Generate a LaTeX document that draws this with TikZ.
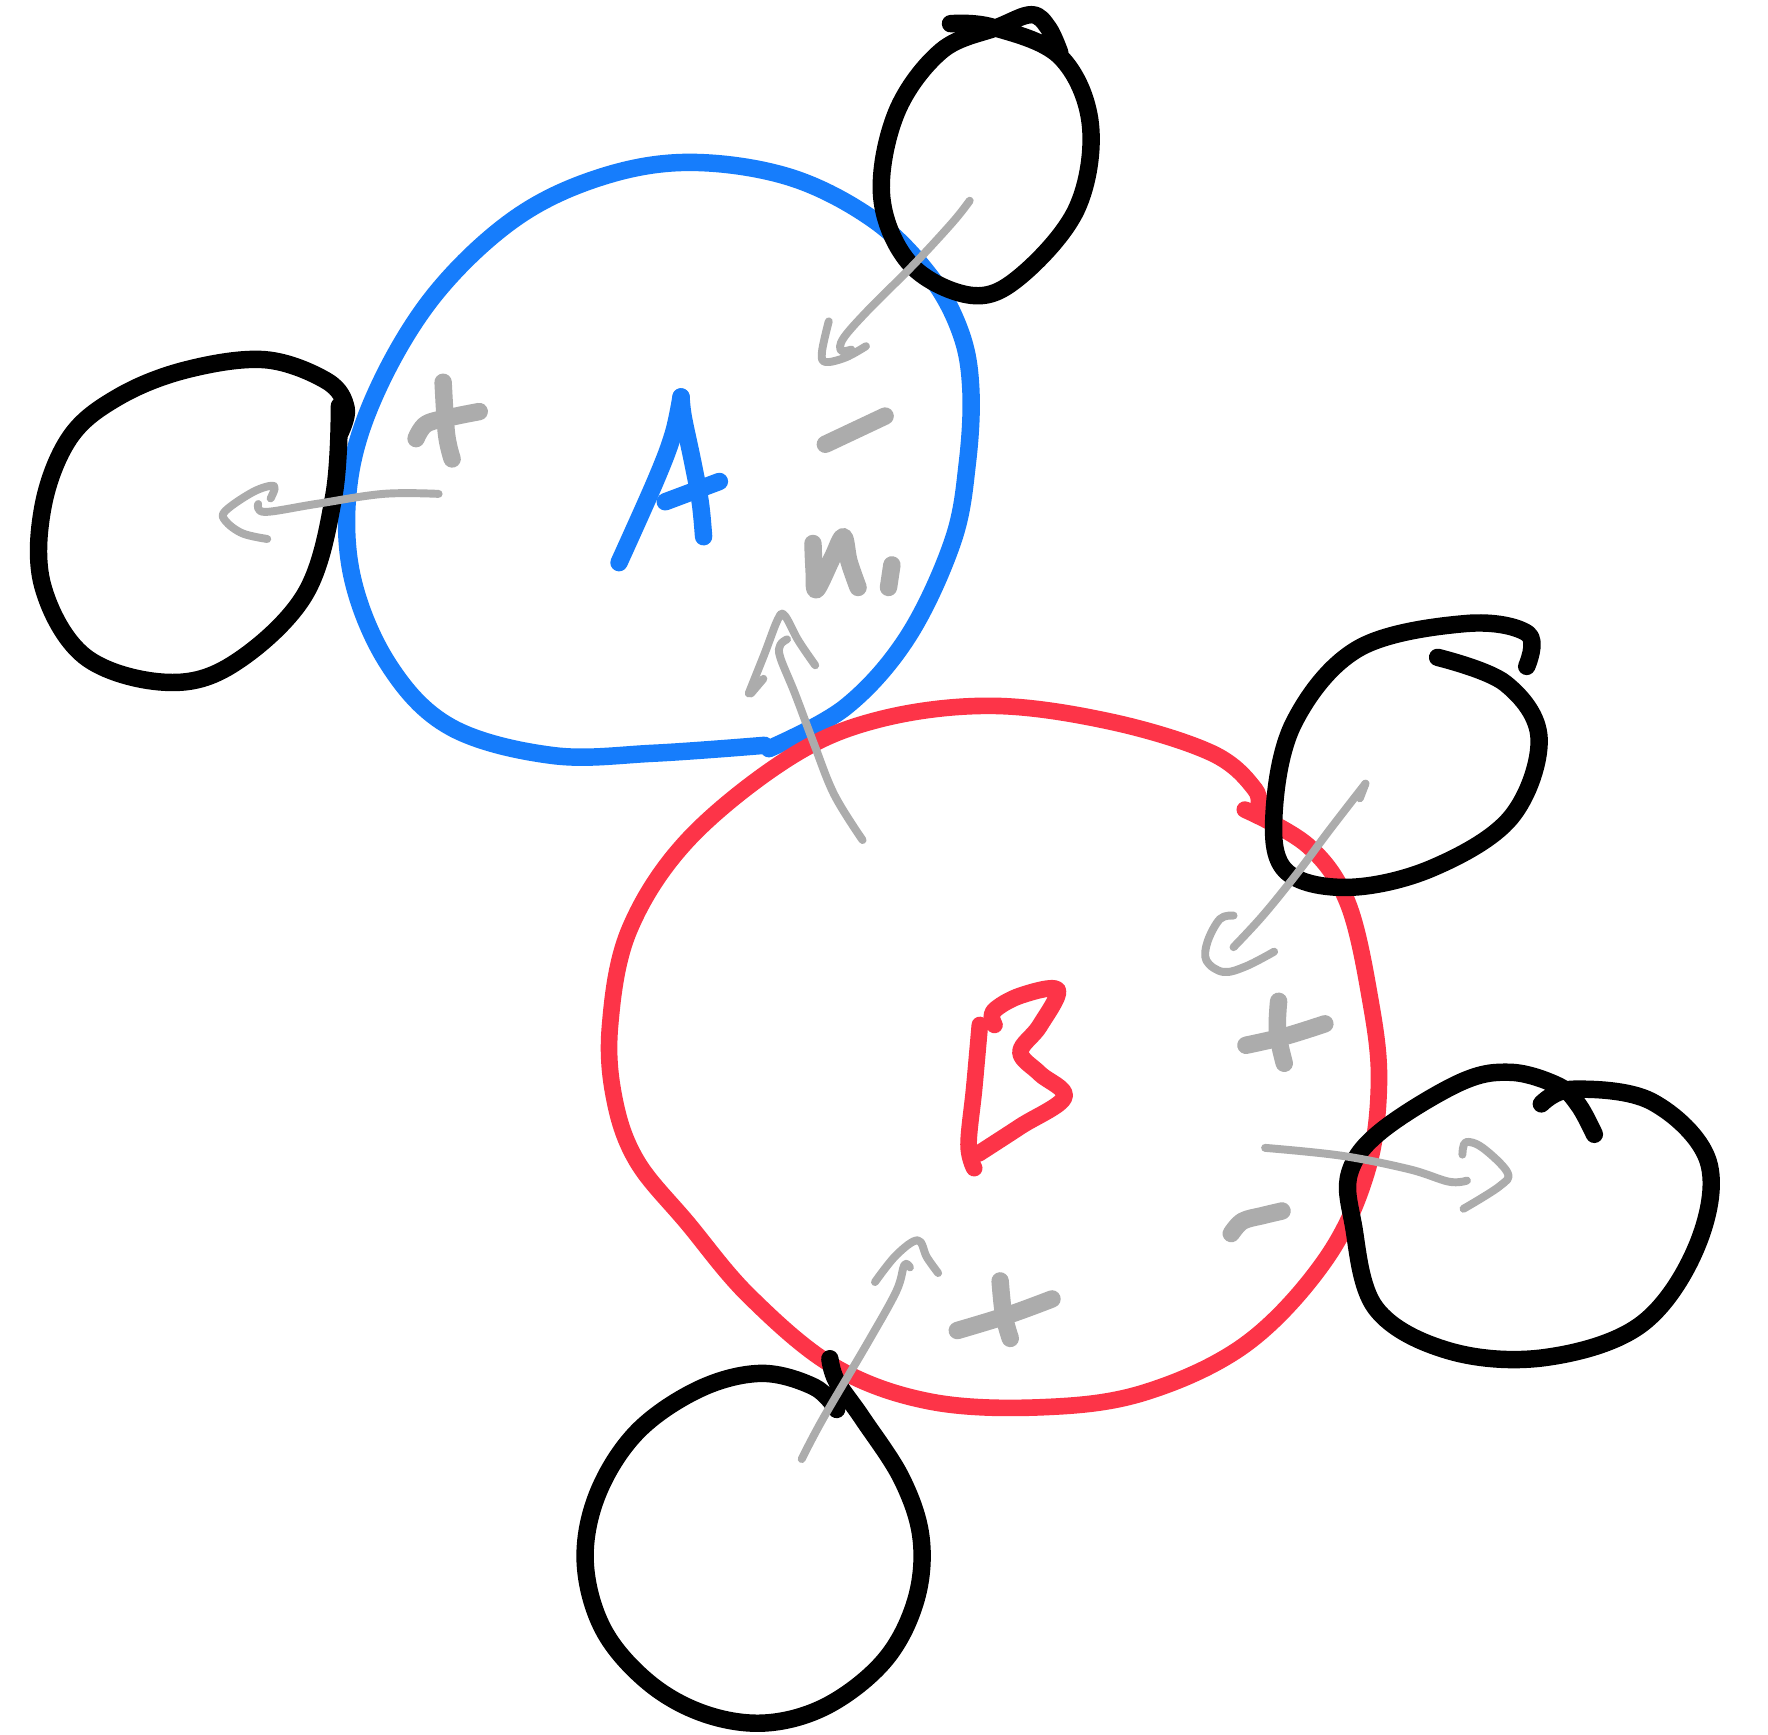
\documentclass[tikz,border=0pt]{standalone}
\definecolor{inkblue}{RGB}{22,125,252}
\definecolor{inkred}{RGB}{253,52,72}
\definecolor{inkgray}{RGB}{172,172,172}
\tikzset{
    ink/.style={smooth, tension=0.6, line cap=round, line join=round},
    blackpen/.style={ink, black, line width=4.4pt},
    bluepen/.style={ink, inkblue, line width=4.4pt},
    redpen/.style={ink, inkred, line width=4.2pt},
    graybold/.style={ink, inkgray, line width=4.4pt},
    graythin/.style={ink, inkgray, line width=2pt},
}
\begin{document}
\begin{tikzpicture}[x=0.01cm, y=-0.01cm]
    \useasboundingbox (0,0) rectangle (1568,1538);
    \fill[white] (0,0) rectangle (1568,1538);

    % Blue loop and its letter
    \draw[bluepen] plot coordinates {(682,664) (750,627) (805,565) (845,480) (858,410) (861,345) (852,295) (825,245) (775,195) (700,157) (610,144) (530,158) (455,195) (385,262) (335,345) (310,425) (312,510) (345,590) (400,645) (490,670) (580,668) (678,661)};
    \draw[bluepen] plot coordinates {(549,499) (582,425) (597,385) (604,352)};
    \draw[bluepen] plot coordinates {(604,352) (606,370) (614,408) (621,445) (624,476)};
    \draw[bluepen] (590,445) -- (638,427);

    % Red loop and its letter
    \draw[redpen] plot coordinates {(1104,718) (1160,750) (1195,800) (1215,885) (1223,960) (1212,1040) (1175,1118) (1105,1192) (1015,1235) (925,1248) (825,1243) (740,1212) (665,1150) (610,1085) (565,1030) (545,975) (541,910) (558,825) (610,745) (700,672) (780,638) (880,626) (985,640) (1075,668) (1113,700) (1115,718)};
    \draw[redpen] plot coordinates {(882,909) (881,897) (905,883) (938,878) (922,910) (905,933) (922,952) (944,973) (905,999) (868,1023)};
    \draw[redpen] plot coordinates {(869,909) (864,965) (859,1015) (864,1036)};

    % Black loops
    \draw[blackpen] plot coordinates {(843,21) (880,24) (940,50) (967,110) (955,185) (905,245) (862,262) (808,235) (782,175) (795,100) (835,45) (885,24) (915,13) (930,25) (940,47)};
    \draw[blackpen] plot coordinates {(301,360) (296,440) (270,528) (205,590) (145,605) (75,582) (38,520) (38,450) (62,388) (105,352) (165,328) (235,319) (290,338) (307,362) (301,385)};
    \draw[blackpen] plot coordinates {(1275,583) (1335,606) (1365,655) (1340,725) (1270,770) (1195,787) (1140,772) (1130,720) (1148,640) (1205,575) (1300,553) (1355,562) (1354,591)};
    \draw[blackpen] plot coordinates {(1367,979) (1395,966) (1465,977) (1515,1030) (1505,1105) (1455,1175) (1370,1204) (1285,1198) (1220,1160) (1200,1085) (1197,1040) (1225,1003) (1295,960) (1340,951) (1382,963) (1400,980) (1414,1006)};
    \draw[blackpen] plot coordinates {(742,1250) (722,1230) (675,1218) (620,1232) (565,1270) (530,1325) (519,1385) (535,1445) (575,1492) (625,1520) (680,1528) (735,1512) (785,1472) (812,1420) (817,1365) (800,1312) (765,1258) (742,1225) (736,1205)};

    % Gray arrows
    \draw[graythin] plot coordinates {(860,178) (845,197) (810,235) (770,275) (748,300) (746,311) (755,310)};
    \draw[graythin] plot coordinates {(735,285) (729,312) (732,321) (750,317) (768,307)};
    \draw[graythin] plot coordinates {(389,438) (340,438) (280,447) (235,454) (229,447)};
    \draw[graythin] plot coordinates {(240,442) (243,431) (225,436) (200,453) (200,462) (215,473) (237,478)};
    \draw[graythin] plot coordinates {(765,745) (740,705) (722,660) (705,615) (692,583) (692,572) (698,567)};
    \draw[graythin] plot coordinates {(664,615) (678,580) (690,549) (696,546) (708,568) (723,590)};
    \draw[graythin] (666,615) -- (677,602);
    \draw[graythin] plot coordinates {(1211,695) (1180,735) (1150,775) (1120,812) (1094,840)};
    \draw[graythin] (1211,695) -- (1206,708);
    \draw[graythin] plot coordinates {(1094,812) (1082,815) (1071,835) (1070,852) (1085,862) (1105,857) (1130,844)};
    \draw[graythin] plot coordinates {(1122,1018) (1190,1025) (1250,1037) (1285,1048) (1301,1047)};
    \draw[graythin] plot coordinates {(1297,1024) (1300,1013) (1315,1018) (1337,1040) (1330,1052) (1298,1072)};
    \draw[graythin] plot coordinates {(711,1294) (730,1258) (770,1190) (795,1145) (802,1122) (807,1124)};
    \draw[graythin] plot coordinates {(776,1137) (795,1113) (814,1100) (822,1115) (832,1129)};

    % Gray signs
    \draw[graybold] plot coordinates {(393,339) (396,385) (401,407)};
    \draw[graybold] plot coordinates {(369,389) (378,376) (400,370) (425,365)};
    \draw[graybold] (732,394) -- (785,369);
    \draw[graybold] plot coordinates {(721,482) (722,505) (724,523) (738,495) (748,476) (753,498) (761,521)};
    \draw[graybold] (791,501) -- (788,521);
    \draw[graybold] plot coordinates {(1134,888) (1133,915) (1139,943)};
    \draw[graybold] plot coordinates {(1105,927) (1140,919) (1175,908)};
    \draw[graybold] plot coordinates {(1092,1094) (1102,1083) (1120,1078) (1137,1074)};
    \draw[graybold] plot coordinates {(887,1136) (890,1165) (896,1187)};
    \draw[graybold] plot coordinates {(849,1180) (895,1166) (933,1152)};
\end{tikzpicture}
\end{document}
